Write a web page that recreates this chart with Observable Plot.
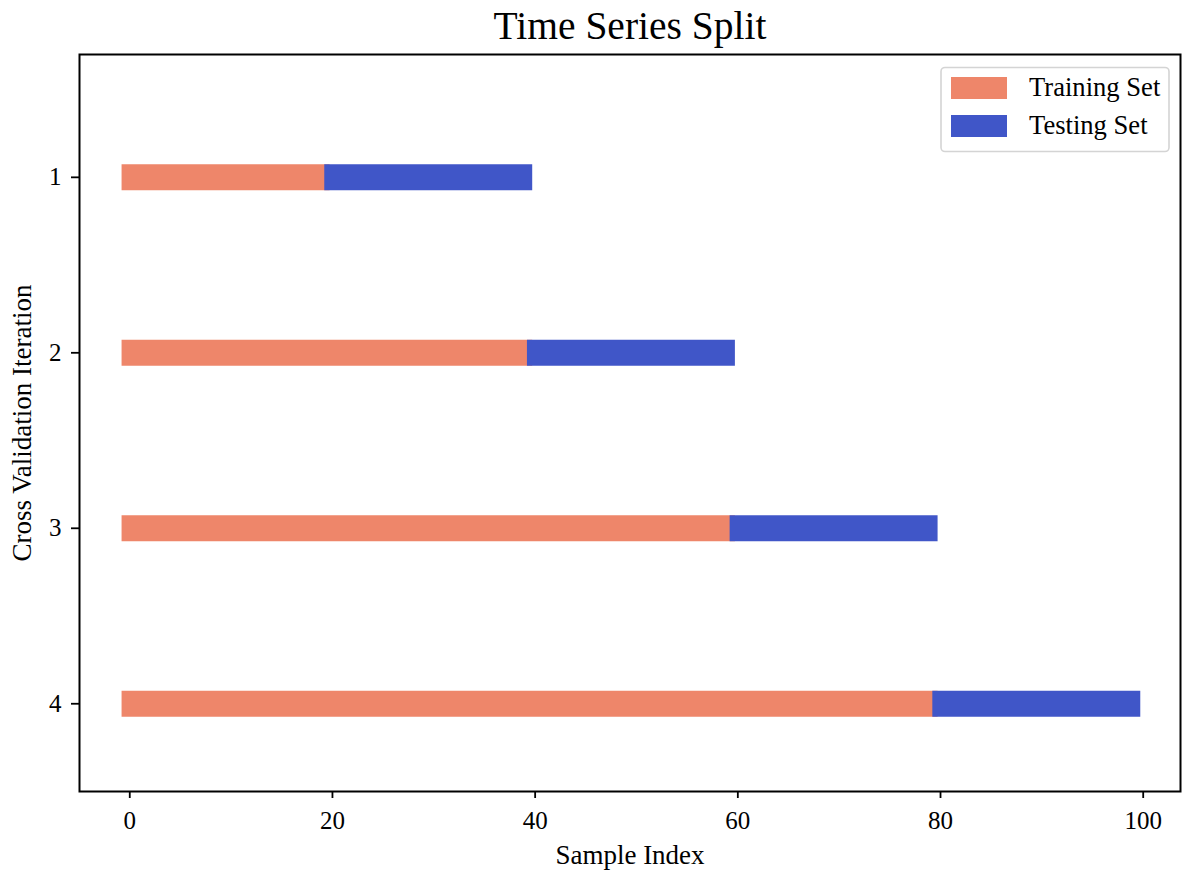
<!DOCTYPE html>
<html>
<head>
<meta charset="utf-8">
<script src="https://cdn.jsdelivr.net/npm/d3@7"></script>
<script src="https://cdn.jsdelivr.net/npm/@observablehq/plot@0.6"></script>
<style>
  html, body { margin: 0; padding: 0; background: #fff; }
  #chart { width: 1182px; height: 873px; }
</style>
</head>
<body>
<div id="chart"></div>
<script>
// ---- data ----
const iterations = [1, 2, 3, 4];
const trainStart = [0, 0, 0, 0];
const trainEnd = [19, 39, 59, 79];
const testStart = [20, 40, 60, 80];
const testEnd = [39, 59, 79, 99];
const xTicks = [0, 20, 40, 60, 80, 100];
const seriesNames = ["Training Set", "Testing Set"];
const seriesColors = ["#ee866a", "#4056c8"];

const half = 0.76; // half-width of each sample marker, in index units

const train = iterations.map((it, i) => ({it, x1: trainStart[i] - half, x2: trainEnd[i] + half}));
const test = iterations.map((it, i) => ({it, x1: testStart[i] - half, x2: testEnd[i] + half}));

const font = "Liberation Serif, Times New Roman, serif";

const plot = Plot.plot({
  width: 1182,
  height: 873,
  marginLeft: 79,
  marginRight: 2,
  marginTop: 54,
  marginBottom: 82,
  style: {fontFamily: font, fontSize: "25px", color: "#000", background: "#fff"},
  x: {domain: [-4.96, 103.68]},
  y: {domain: [4.5, 0.3]},
  marks: [
    Plot.ruleY(train, {y: "it", x1: "x1", x2: "x2", stroke: seriesColors[0], strokeWidth: 26}),
    Plot.ruleY(test, {y: "it", x1: "x1", x2: "x2", stroke: seriesColors[1], strokeWidth: 26}),
    Plot.frame({stroke: "#000", strokeWidth: 2}),
    Plot.axisX({ticks: xTicks, tickSize: 7, tickPadding: 13, strokeWidth: 1.8, label: null, fontSize: 25}),
    Plot.axisY({ticks: iterations, tickSize: 8, tickPadding: 10, strokeWidth: 1.8, label: null, fontSize: 25, tickFormat: d3.format("d")}),
    Plot.text(["Sample Index"], {frameAnchor: "bottom", dy: 64, fontSize: 27, lineAnchor: "middle", textAnchor: "middle"}),
    Plot.text(["Cross Validation Iteration"], {frameAnchor: "left", dx: -57, rotate: -90, fontSize: 27, lineAnchor: "middle", textAnchor: "middle"}),
    Plot.text(["Time Series Split"], {frameAnchor: "top", dy: -28, fontSize: 39.5, lineAnchor: "middle", textAnchor: "middle"})
  ]
});

document.getElementById("chart").appendChild(plot);

// ---- legend (inside the SVG, upper right) ----
const svg = d3.select(plot);
const lg = svg.append("g").attr("font-family", font).attr("font-size", 26.6).attr("text-anchor", "start");
lg.append("rect")
  .attr("x", 941).attr("y", 67.5).attr("width", 228).attr("height", 84)
  .attr("rx", 4).attr("fill", "#fff").attr("fill-opacity", 0.8)
  .attr("stroke", "#d4d4d4").attr("stroke-width", 1.6);
seriesNames.forEach((name, i) => {
  const yTop = 77 + i * 38;
  lg.append("rect").attr("x", 951).attr("y", yTop).attr("width", 56).attr("height", 22).attr("fill", seriesColors[i]);
  lg.append("text").attr("x", 1029).attr("y", yTop + 19).attr("text-anchor", "start").attr("fill", "#000").text(name);
});
</script>
</body>
</html>
